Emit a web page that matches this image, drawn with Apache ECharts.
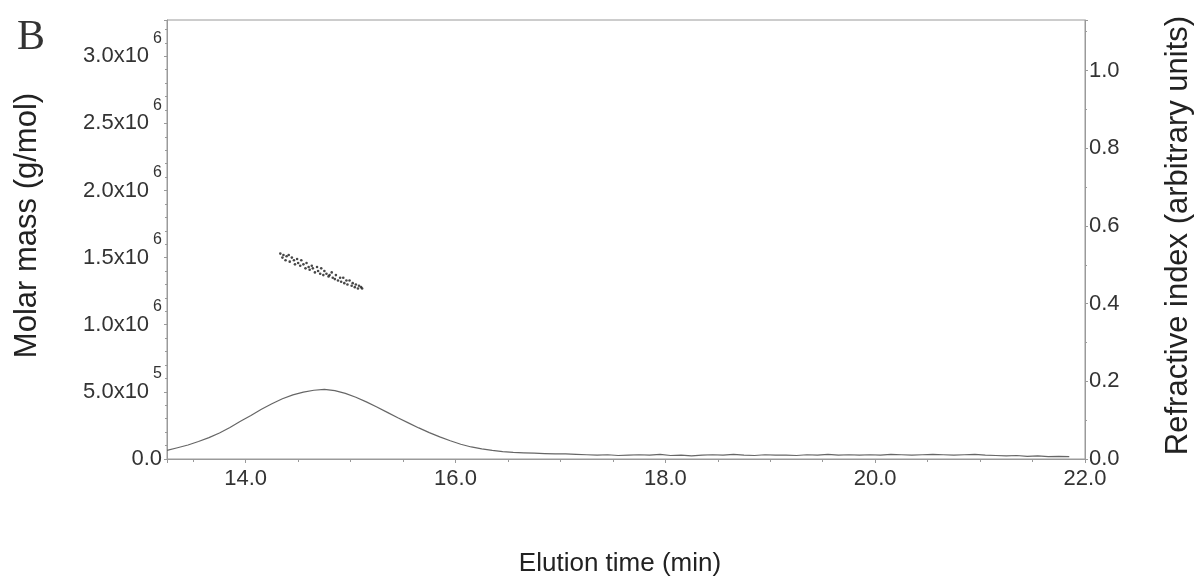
<!DOCTYPE html>
<html>
<head>
<meta charset="utf-8">
<title>Elution profile B</title>
<script src="https://cdn.jsdelivr.net/npm/echarts@6/dist/echarts.min.js"></script>
<style>
    html, body { margin: 0; padding: 0; background: #fff; }
    #chart { width: 1202px; height: 585px; }
</style>
</head>
<body>
<div id="chart"></div>
<script>
// refractive index trace (right axis)
const riTime = [
    13.25, 13.35, 13.45, 13.55, 13.65, 13.75, 13.85, 13.95, 14.05, 14.15,
    14.25, 14.35, 14.45, 14.55, 14.65, 14.75, 14.85, 14.95, 15.05, 15.15,
    15.25, 15.35, 15.45, 15.55, 15.65, 15.75, 15.85, 15.95, 16.05, 16.15,
    16.25, 16.35, 16.45, 16.55, 16.65, 16.75, 16.85, 16.95, 17.05, 17.15,
    17.25, 17.35, 17.45, 17.55, 17.65, 17.75, 17.85, 17.95, 18.05, 18.15,
    18.25, 18.35, 18.45, 18.55, 18.65, 18.75, 18.85, 18.95, 19.05, 19.15,
    19.25, 19.35, 19.45, 19.55, 19.65, 19.75, 19.85, 19.95, 20.05, 20.15,
    20.25, 20.35, 20.45, 20.55, 20.65, 20.75, 20.85, 20.95, 21.05, 21.15,
    21.25, 21.35, 21.45, 21.55, 21.65, 21.75, 21.85
]
const riValue = [
    0.022, 0.029, 0.036, 0.045, 0.055, 0.067, 0.081, 0.097, 0.112, 0.128,
    0.142, 0.155, 0.165, 0.172, 0.177, 0.179, 0.176, 0.169, 0.159, 0.147,
    0.134, 0.120, 0.106, 0.093, 0.080, 0.068, 0.057, 0.047, 0.038, 0.031,
    0.026, 0.022, 0.019, 0.017, 0.016, 0.015, 0.014, 0.013, 0.013, 0.012,
    0.011, 0.010, 0.011, 0.009, 0.010, 0.011, 0.010, 0.012, 0.009, 0.010,
    0.008, 0.010, 0.011, 0.010, 0.012, 0.010, 0.009, 0.011, 0.010, 0.010,
    0.009, 0.011, 0.010, 0.012, 0.010, 0.011, 0.010, 0.011, 0.010, 0.012,
    0.011, 0.010, 0.011, 0.012, 0.011, 0.010, 0.011, 0.012, 0.010, 0.009,
    0.008, 0.009, 0.007, 0.008, 0.006, 0.007, 0.006
]

// molar mass points (left axis)
const massTime = [
    14.33, 14.35, 14.36, 14.38, 14.39, 14.41, 14.42, 14.44, 14.46, 14.47,
    14.49, 14.50, 14.52, 14.53, 14.55, 14.57, 14.58, 14.60, 14.61, 14.63,
    14.64, 14.66, 14.68, 14.69, 14.71, 14.72, 14.74, 14.75, 14.77, 14.79,
    14.80, 14.82, 14.83, 14.85, 14.86, 14.88, 14.90, 14.91, 14.93, 14.94,
    14.96, 14.97, 14.99, 15.01, 15.02, 15.04, 15.05, 15.07, 15.08, 15.10,
    15.11
]
const massValue = [
    1.53e6, 1.50e6, 1.52e6, 1.48e6, 1.51e6, 1.52e6, 1.47e6, 1.50e6, 1.48e6, 1.45e6,
    1.49e6, 1.46e6, 1.44e6, 1.48e6, 1.45e6, 1.42e6, 1.46e6, 1.43e6, 1.41e6, 1.44e6,
    1.42e6, 1.39e6, 1.43e6, 1.40e6, 1.38e6, 1.42e6, 1.37e6, 1.40e6, 1.38e6, 1.36e6,
    1.37e6, 1.39e6, 1.35e6, 1.34e6, 1.37e6, 1.33e6, 1.35e6, 1.32e6, 1.35e6, 1.31e6,
    1.33e6, 1.30e6, 1.33e6, 1.29e6, 1.31e6, 1.28e6, 1.30e6, 1.27e6, 1.29e6, 1.28e6,
    1.27e6
]

const axisColor = '#9a9a9a'
const textColor = '#333'
const font = 'Liberation Sans'

// "3.0x10^6" style labels
function massLabel(v) {
    if (v === 0) return '0.0'
    if (Math.abs(v / 5e5 - Math.round(v / 5e5)) > 1e-6) return ''
    let exp = Math.floor(Math.log10(v) + 1e-9)
    let mant = (v / Math.pow(10, exp)).toFixed(1)
    return mant + 'x10{sup|' + exp + '}'
}

let chart = echarts.init(document.getElementById('chart'))

chart.setOption({
    animation: false,
    backgroundColor: '#fff',
    grid: {
        left: 167, right: 114, top: 20, bottom: 126,
        show: true, borderColor: axisColor, borderWidth: 1, backgroundColor: 'transparent'
    },
    graphic: [{
        type: 'text', left: 17, top: 17,
        style: { text: 'B', font: '42px "Liberation Serif"', fill: textColor }
    }],
    xAxis: {
        type: 'value', min: 13.25, max: 22, splitNumber: 4,
        name: 'Elution time (min)', nameLocation: 'middle', nameGap: 92,
        nameTextStyle: { fontFamily: font, fontSize: 26, color: '#222', padding: [0, 12, 0, 0] },
        axisLine: { show: true, lineStyle: { color: axisColor } },
        axisTick: { show: true, length: 4, lineStyle: { color: axisColor } },
        minorTick: { show: true, splitNumber: 4, length: 3, lineStyle: { color: axisColor } },
        splitLine: { show: false },
        axisLabel: {
            fontFamily: font, fontSize: 22, color: textColor, margin: 9,
            formatter: v => (Math.abs(v % 2) < 1e-6 ? v.toFixed(1) : '')
        }
    },
    yAxis: [{
        type: 'value', min: 0, max: 3.27e6, interval: 5e5, position: 'left',
        name: 'Molar mass (g/mol)', nameLocation: 'middle', nameGap: 124, nameRotate: 90,
        nameTextStyle: { fontFamily: font, fontSize: 31, color: '#222', padding: [0, 0, 0, 28] },
        axisLine: { show: true, lineStyle: { color: axisColor } },
        axisTick: { show: true, length: 3, lineStyle: { color: axisColor } },
        minorTick: { show: true, splitNumber: 5, length: 2, lineStyle: { color: axisColor } },
        splitLine: { show: false },
        axisLabel: {
            fontFamily: font, fontSize: 22, color: textColor, margin: 5,
            formatter: massLabel,
            rich: {
                sup: { fontFamily: font, fontSize: 16, color: textColor, padding: [0, 0, 36, 4] }
            }
        }
    }, {
        type: 'value', min: 0, max: 1.13, interval: 0.2, position: 'right',
        name: 'Refractive index (arbitrary units)', nameLocation: 'middle', nameGap: 78, nameRotate: 90,
        nameTextStyle: { fontFamily: font, fontSize: 31, color: '#222', padding: [0, 0, 0, 8] },
        axisLine: { show: true, lineStyle: { color: axisColor } },
        axisTick: { show: true, length: 3, lineStyle: { color: axisColor } },
        minorTick: { show: true, splitNumber: 2, length: 2, lineStyle: { color: axisColor } },
        splitLine: { show: false },
        axisLabel: {
            fontFamily: font, fontSize: 22, color: textColor, margin: 4,
            formatter: v => (v > 1.05 ? '' : v.toFixed(1))
        }
    }],
    series: [{
        name: 'RI', type: 'line', yAxisIndex: 1,
        data: riTime.map((t, i) => [t, riValue[i]]),
        showSymbol: false, symbol: 'none',
        lineStyle: { color: '#666', width: 1.2 }
    }, {
        name: 'Molar mass', type: 'scatter', yAxisIndex: 0,
        data: massTime.map((t, i) => [t, massValue[i]]),
        symbol: 'circle', symbolSize: 2.6,
        itemStyle: { color: '#1a1a1a' }
    }]
})
</script>
</body>
</html>
